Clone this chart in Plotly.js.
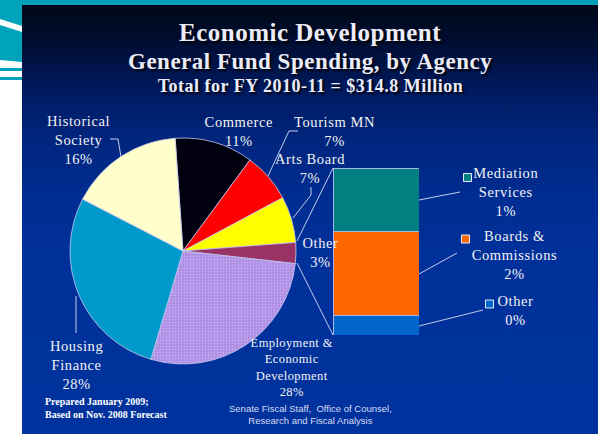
<!DOCTYPE html>
<html><head><meta charset="utf-8">
<script src="https://cdn.plot.ly/plotly-3.0.1.min.js"></script>
<style>
html,body{margin:0;padding:0;background:#fff;}
#wrap{position:relative;width:598px;height:434px;overflow:hidden;background:#fff;}
#topbar{position:absolute;left:0;top:0;width:598px;height:5px;background:#00A0B8;}
#panel{position:absolute;left:22px;top:5px;width:576px;height:429px;
 background:linear-gradient(to bottom,#000716 0%,#000e33 9%,#001a60 20%,#00267f 32%,#002d92 45%,#00319b 60%,#00329d 100%);}
#deco{position:absolute;left:0;top:0;width:22px;height:434px;}
#chart{position:absolute;left:0;top:0;width:598px;height:434px;}
</style></head>
<body>
<div id="wrap">
 <div id="topbar"></div>
 <svg id="deco" width="22" height="434">
  <rect x="0" y="0" width="22" height="434" fill="#ffffff"/>
  <polygon points="0,0 22,0 22,62 0,60" fill="#00A3BA"/>
  <polygon points="0,19 22,26 22,32 0,25" fill="#ffffff"/>
  <rect x="0" y="68" width="22" height="3" fill="#00A3BA"/>
  <rect x="0" y="77" width="22" height="3" fill="#00A3BA"/>
 </svg>
 <div id="panel"></div>
 <div id="chart"></div>
</div>
<script>
// ---- data ----
const pieNames = ['Commerce','Tourism MN','Arts Board','Other','Employment &<br>Economic<br>Development','Housing<br>Finance','Historical<br>Society'];
const pieValues = [11.2, 7.1, 6.6, 3.0, 27.8, 28.0, 16.3];
const pieColors = ['#00000e','#ff0000','#ffff00','#993366','#b090e6','#0099cc','#ffffcc'];
const barNames = ['Other','Boards &<br>Commissions','Mediation<br>Services'];
const barValues = [0.35, 1.51, 1.14];
const barColors = ['#0066cc','#ff6600','#008080'];
const titleLines = ['Economic Development','General Fund Spending, by Agency','Total for FY 2010-11 = $314.8 Million'];

// ---- layout helpers ----
const W = 598, H = 434;
const px = x => x / W, py = y => 1 - y / H;
const pieLabelPos = [[239,131],[335,131],[310,168.5],[320,252.5],[292,367],[76,364.5],[78,139.5]];
const pieLabelSize = [14.5,14.5,14.5,14.5,12.5,14.5,14.5];
const barLabelPos = [[515,310],[514,254.5],[506,192]];
const barSquarePos = [[489.5,304],[465.5,239],[467.5,177.5]];
const leaderLines = [
 [[110,139],[118,139],[121,157]],
 [[298,131],[289,131],[268,176]],
 [[311,187],[311,195],[293,218]],
 [[76,296],[76,333]],
 [[419,200],[460,192]],
 [[419,274],[457,253]],
 [[419,326],[483,310]],
 [[297,241],[333,168]],
 [[297,263],[333,335]]
];

const pieTotal = pieValues.reduce((a,b)=>a+b,0);
const labelFont = {family:'Liberation Serif, Times New Roman, serif', color:'#f2f2f2'};

const annotations = [];
const spacing = [];
// titles
const tY = [32, 61, 86], tS = [25, 23, 18];
titleLines.forEach((t,i)=>{annotations.push({text:t, xref:'paper', yref:'paper', x:px(310), y:py(tY[i]),
 xanchor:'center', yanchor:'middle', showarrow:false,
 font:{family:'Liberation Serif, Times New Roman, serif', size:tS[i], color:'#ececf8', weight:'bold', shadow:'2px 2px 2px rgba(0,0,0,0.85)'}});
 spacing.push(0.5);});
// pie labels
pieNames.forEach((n,i)=>{annotations.push({text:n+'<br>'+Math.round(pieValues[i]/pieTotal*100)+'%',
 xref:'paper', yref:'paper', x:px(pieLabelPos[i][0]), y:py(pieLabelPos[i][1]), xanchor:'center', yanchor:'middle',
 showarrow:false, align:'center', font:Object.assign({size:pieLabelSize[i]}, labelFont)});
 spacing.push(i===4?0.4:0.6);});
// bar labels
barNames.forEach((n,i)=>{annotations.push({text:n+'<br>'+Math.round(barValues[i])+'%',
 xref:'paper', yref:'paper', x:px(barLabelPos[i][0]), y:py(barLabelPos[i][1]), xanchor:'center', yanchor:'middle',
 showarrow:false, align:'center', font:Object.assign({size:14.5}, labelFont)});
 spacing.push(0.6);});
// footers
annotations.push({text:'Prepared January 2009;<br>Based on Nov. 2008 Forecast', xref:'paper', yref:'paper',
 x:px(43), y:py(408), xanchor:'left', yanchor:'middle', showarrow:false, align:'left',
 font:{family:'Liberation Serif, serif', size:10, color:'#ffffff', weight:'bold'}});
spacing.push(0);
annotations.push({text:'Senate Fiscal Staff,  Office of Counsel,<br>Research and Fiscal Analysis', xref:'paper', yref:'paper',
 x:px(310), y:py(414.5), xanchor:'center', yanchor:'middle', showarrow:false, align:'center',
 font:{family:'Liberation Sans, Arial, sans-serif', size:9.5, color:'#d6dcf4'}});
spacing.push(0);

const shapes = [];
leaderLines.forEach(pts=>{
 const d = pts.map((p,j)=>(j?'L':'M')+px(p[0]).toFixed(5)+' '+py(p[1]).toFixed(5)).join(' ');
 shapes.push({type:'path', xref:'paper', yref:'paper', path:d, line:{color:'#c4ccee', width:1}});
});
barSquarePos.forEach((p,i)=>shapes.push({type:'rect', xref:'paper', yref:'paper',
 x0:px(p[0]-4), x1:px(p[0]+4), y0:py(p[1]+4), y1:py(p[1]-4), fillcolor:barColors[i], line:{color:'#e8ecff', width:1}}));

const traces = [{
 type:'pie', values:pieValues, labels:pieNames, sort:false, direction:'clockwise', rotation:-4,
 textinfo:'none', hoverinfo:'none', showlegend:false,
 marker:{colors:pieColors, line:{color:'#c8c8ee', width:0.8},
  pattern:{shape:['','','','','.','',''], fgcolor:'#c6aef2', bgcolor:'#ad8ce4', fillmode:'replace', size:3, solidity:0.3}},
 domain:{x:[px(70), px(296)], y:[py(364), py(138)]}
}];
barValues.forEach((v,i)=>traces.push({type:'bar', x:[0], y:[v], width:1, name:barNames[i],
 marker:{color:barColors[i], line:{color:'#a8b4e4', width:1}}, hoverinfo:'none', showlegend:false,
 xaxis:'x', yaxis:'y'}));

const layout = {
 width:W, height:H, margin:{l:0,r:0,t:0,b:0},
 paper_bgcolor:'rgba(0,0,0,0)', plot_bgcolor:'rgba(0,0,0,0)',
 barmode:'stack', bargap:0,
 xaxis:{domain:[px(333), px(419)], range:[-0.5,0.5], visible:false, fixedrange:true},
 yaxis:{domain:[py(335), py(168)], range:[0, barValues.reduce((a,b)=>a+b,0)], visible:false, fixedrange:true},
 annotations:annotations, shapes:shapes, showlegend:false
};
Plotly.newPlot('chart', traces, layout, {staticPlot:true, displayModeBar:false}).then(gd=>{
 gd.querySelectorAll('.annotation').forEach(g=>{
  const i = +g.getAttribute('data-index');
  const t = g.querySelector('text.annotation-text');
  if(t && spacing[i]) t.style.letterSpacing = spacing[i]+'px';
 });
});
</script>
</body></html>
